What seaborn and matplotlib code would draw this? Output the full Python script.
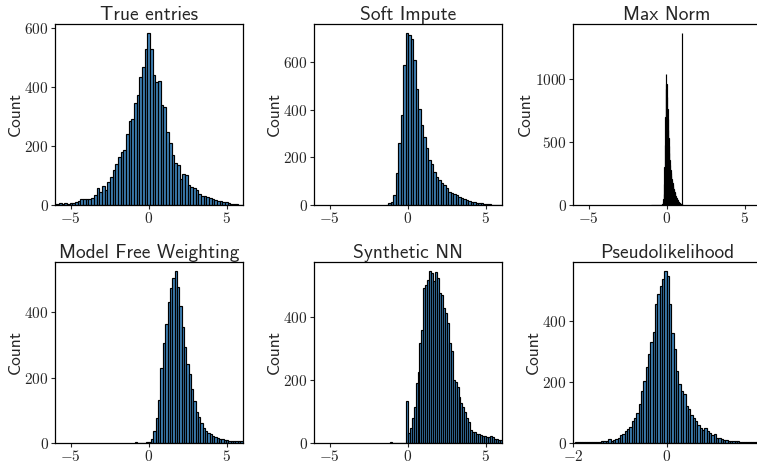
import numpy as np
import pandas as pd
import matplotlib
matplotlib.use("Agg")
import matplotlib.pyplot as plt
from matplotlib.ticker import FuncFormatter, MultipleLocator
import seaborn as sns

# ---------------- data (bin counts) ----------------
titles = ["True entries", "Soft Impute", "Max Norm",
          "Model Free Weighting", "Synthetic NN", "Pseudolikelihood"]

true_start, true_width = -6.0857, 12 / 70
true_counts = [4, 5, 6, 5, 6, 4, 6, 8, 10, 14, 20, 22, 22, 21, 23, 35, 57, 45, 63, 50,
               79, 96, 118, 139, 161, 178, 186, 240, 283, 291, 345, 373, 433, 469, 527,
               584, 528, 440, 418, 420, 339, 331, 248, 211, 169, 143, 136, 87, 105, 102,
               68, 62, 57, 51, 37, 32, 30, 26, 24, 21, 18, 15, 13, 11, 9, 6, 4, 3, 2, 1, 1]

soft_start, soft_width = -1.4, 0.16
soft_counts = [2, 7, 14, 42, 135, 258, 377, 586, 723, 714, 697, 607, 488, 404, 335, 286,
               237, 190, 170, 140, 118, 105, 93, 84, 70, 56, 49, 46, 42, 35, 31, 25, 21,
               18, 14, 11, 10, 8, 7, 6, 4, 3, 2, 2, 1, 1, 1]

maxn_start, maxn_width = -1.0, 0.025
maxn_counts = [1, 0, 2, 1, 0, 1, 2, 1, 1, 0, 1, 1, 2, 1, 1, 2, 1, 2, 2, 1, 2, 3, 2, 3, 2, 3, 3, 4,
               3, 8, 20, 45, 90, 170, 300, 480, 700, 920, 1045, 960,
               860, 760, 680, 600, 530, 465, 410, 360, 318, 282,
               254, 231, 210, 191, 174, 158, 144, 131, 119, 105, 93, 82, 73, 64, 57, 50,
               45, 40, 34, 29, 25, 21, 18, 15, 12, 10, 8, 7, 6,
               1370]

mfw_start, mfw_width = -0.9, 0.15
mfw_counts = [2, 1, 0, 1, 1, 2,
              3, 12, 38, 75, 130, 230, 305, 365, 430, 475, 505, 527, 478, 420, 355, 295,
              240, 210, 165, 128, 95, 78, 62, 46, 37, 30, 27, 21, 17, 15, 13, 11, 9, 8,
              7, 6, 6, 7, 6, 7]

snn_start, snn_width = -1.125, 0.125
snn_counts = [2, 1, 0, 0, 0, 0, 0, 0, 132,
              31, 47, 79, 113, 190, 227, 317, 360, 492, 503, 519, 548, 540, 516, 544, 524,
              477, 471, 429, 413, 381, 318, 291, 201, 195, 179, 147, 126, 116, 100, 79, 68,
              41, 36, 35, 30, 28, 25, 22, 22, 20, 18, 22, 18, 14, 12, 10, 8]

pl_start, pl_width = -2.0, 0.05
pl_counts = [1, 2, 2, 2, 3, 2, 3, 3, 4, 3, 4, 4,
             5, 5, 6, 13, 7, 9, 13, 17, 27, 29, 38, 47, 51, 71, 82, 99, 127, 171, 204, 249,
             293, 332, 366, 455, 488, 515, 537, 566,
             548, 455, 360, 310, 238, 193, 171, 160, 121, 110, 93, 82, 71, 58, 49, 43, 49,
             38, 32, 27, 29, 18, 17, 12, 10, 9, 8, 8, 6, 5, 5, 4, 4, 3, 3, 3, 2, 2, 2, 1]

panels = [
    (true_start, true_width, true_counts),
    (soft_start, soft_width, soft_counts),
    (maxn_start, maxn_width, maxn_counts),
    (mfw_start, mfw_width, mfw_counts),
    (snn_start, snn_width, snn_counts),
    (pl_start, pl_width, pl_counts),
]
xlims = [(-6, 6), (-6, 6), (-6, 6), (-6, 6), (-6, 6), (-2, 2)]
xticks = [[-5, 0, 5]] * 5 + [[-2, 0, 2]]
ystep = [200, 200, 500, 200, 200, 200]

# ---------------- style ----------------
sns.set_style("ticks")
plt.rcParams["mathtext.fontset"] = "cm"
plt.rcParams["axes.linewidth"] = 0.9

W, H = 757, 463
fig = plt.figure(figsize=(W / 100, H / 100), dpi=100)
lefts = [55, 314, 573]
tops = [24, 262]
aw, ah = 187.5, 181

fmt = FuncFormatter(lambda v, p: f"${v:g}$")

for i, (start, width, counts) in enumerate(panels):
    r, c = divmod(i, 3)
    ax = fig.add_axes([lefts[c] / W, 1 - (tops[r] + ah) / H, aw / W, ah / H])
    counts = np.asarray(counts, dtype=float)
    n = len(counts)
    edges = (start + width * np.arange(n + 1)).tolist()
    centers = [0.5 * (edges[k] + edges[k + 1]) for k in range(n)]
    df = pd.DataFrame({"value": centers, "count": counts})
    sns.histplot(data=df, x="value", weights="count", bins=edges, ax=ax,
                 color="#1f6fae", edgecolor="black", linewidth=0.85, alpha=0.85)
    ax.set_xlim(*xlims[i])
    ax.set_xticks(xticks[i])
    ax.yaxis.set_major_locator(MultipleLocator(ystep[i]))
    ax.xaxis.set_major_formatter(fmt)
    ax.yaxis.set_major_formatter(fmt)
    ax.tick_params(labelsize=11, length=3, width=0.8, pad=1.5)
    ax.set_xlabel("")
    ax.set_ylabel("Count", fontfamily="cmss10", fontsize=12.5, labelpad=1)
    ax.set_title(titles[i], fontfamily="cmss10", fontsize=14, pad=3)
    for s in ax.spines.values():
        s.set_visible(True)
        s.set_color("black")

fig.savefig("out.png", dpi=100)
